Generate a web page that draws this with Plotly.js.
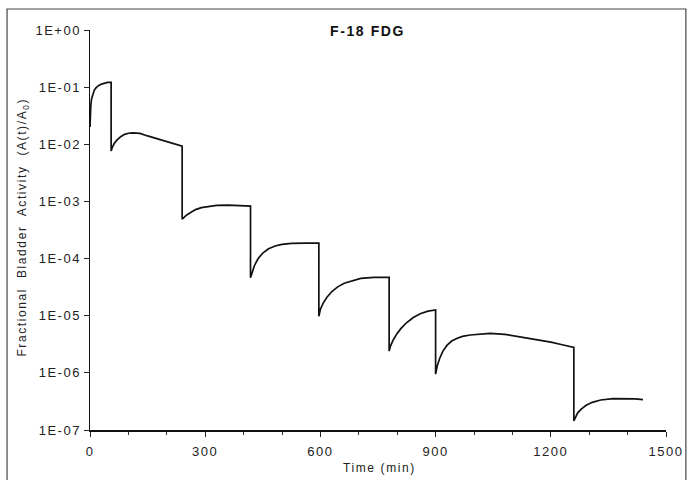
<!DOCTYPE html>
<html>
<head>
<meta charset="utf-8">
<script src="https://cdn.plot.ly/plotly-3.0.1.min.js"></script>
<style>
  html, body { margin: 0; padding: 0; background: #fff; }
  #chart { width: 687px; height: 480px; }
  .xtick text, .ytick text { letter-spacing: 1.5px; }
  .annotation-text { letter-spacing: 1.6px; }
</style>
</head>
<body>
<div id="chart"></div>
<script>
// Time after administration (min) and fractional bladder activity A(t)/A0
const timeMin = [
  0, 1, 2, 4, 7, 11, 16, 22, 30, 38, 46, 55,
  55, 58, 63, 70, 80, 90, 100, 112, 130, 150, 175, 200, 220, 240,
  240, 245, 252, 262, 275, 290, 308, 330, 360, 390, 418,
  418, 422, 428, 438, 450, 465, 482, 500, 525, 560, 596,
  596, 600, 607, 617, 630, 645, 662, 682, 705, 740, 779,
  779, 783, 790, 799, 810, 825, 842, 860, 880, 900,
  900, 904, 910, 919, 930, 942, 955, 970, 990, 1015, 1042, 1080, 1120, 1160, 1200, 1230, 1260,
  1260, 1264, 1270, 1280, 1292, 1308, 1330, 1362, 1395, 1420, 1440
];
const fraction = [
  0.02, 0.035, 0.047, 0.062, 0.076, 0.088, 0.098, 0.106, 0.113, 0.118, 0.121, 0.121,
  0.0076, 0.0088, 0.0103, 0.0118, 0.0136, 0.0149, 0.0156, 0.0158, 0.0155, 0.0140, 0.0125, 0.0111, 0.0101, 0.0093,
  4.9e-4, 5.3e-4, 5.8e-4, 6.4e-4, 7.2e-4, 7.8e-4, 8.2e-4, 8.5e-4, 8.6e-4, 8.5e-4, 8.3e-4,
  4.6e-5, 5.8e-5, 7.5e-5, 1.0e-4, 1.25e-4, 1.48e-4, 1.66e-4, 1.77e-4, 1.84e-4, 1.87e-4, 1.86e-4,
  9.8e-6, 1.3e-5, 1.65e-5, 2.1e-5, 2.65e-5, 3.2e-5, 3.7e-5, 4.1e-5, 4.5e-5, 4.7e-5, 4.7e-5,
  2.4e-6, 3.0e-6, 3.8e-6, 4.8e-6, 6.0e-6, 7.6e-6, 9.3e-6, 1.08e-5, 1.2e-5, 1.26e-5,
  9.5e-7, 1.3e-6, 1.75e-6, 2.4e-6, 3.05e-6, 3.6e-6, 4.0e-6, 4.35e-6, 4.6e-6, 4.8e-6, 4.9e-6, 4.73e-6, 4.3e-6, 3.9e-6, 3.45e-6, 3.1e-6, 2.8e-6,
  1.45e-7, 1.7e-7, 2.0e-7, 2.35e-7, 2.7e-7, 3.05e-7, 3.35e-7, 3.55e-7, 3.58e-7, 3.5e-7, 3.4e-7
];

const yTickVals = [1, 1e-1, 1e-2, 1e-3, 1e-4, 1e-5, 1e-6, 1e-7];
const yTickText = ['1E+00', '1E-01', '1E-02', '1E-03', '1E-04', '1E-05', '1E-06', '1E-07'];
const xTickVals = [0, 300, 600, 900, 1200, 1500];
const xTickText = ['0', '300', '600', '900', '1200', '1500'];

const chartTitle = 'F-18 FDG';
const xTitle = 'Time (min)';
const yTitle = 'Fractional\u00a0 Bladder\u00a0 Activity\u00a0 (A(t)/A<sub>0</sub>)';

const font = 'Liberation Sans, Arial, sans-serif';

const trace = {
  x: timeMin,
  y: fraction,
  type: 'scatter',
  mode: 'lines',
  line: { color: '#111', width: 1.7 },
  hoverinfo: 'skip'
};

const layout = {
  width: 687,
  height: 480,
  margin: { l: 90, r: 21, t: 30, b: 50 },
  paper_bgcolor: '#fff',
  plot_bgcolor: '#fff',
  showlegend: false,
  font: { family: font, size: 12, color: '#222' },
  xaxis: {
    range: [0, 1500],
    tickvals: xTickVals,
    ticktext: xTickText,
    ticks: 'outside',
    ticklen: 5,
    tickcolor: '#222',
    tickwidth: 1,
    ticklabelstandoff: 4,
    showline: true,
    linecolor: '#111',
    linewidth: 1.5,
    showgrid: false,
    zeroline: false,
    minor: { dtick: 100, tick0: 0, ticks: 'outside', ticklen: 3, tickcolor: '#333', showgrid: false },
    tickfont: { family: font, size: 13, color: '#222' }
  },
  yaxis: {
    type: 'log',
    range: [-7, 0],
    tickvals: yTickVals,
    ticktext: yTickText,
    ticks: 'outside',
    ticklen: 5,
    tickcolor: '#222',
    tickwidth: 1,
    showline: true,
    linecolor: '#111',
    linewidth: 1.5,
    showgrid: false,
    zeroline: false,
    tickfont: { family: font, size: 13, color: '#222' }
  },
  shapes: [
    {
      type: 'rect', xref: 'paper', yref: 'paper',
      x0: -0.144, x1: 1.0345, y0: -0.14, y1: 1.0525,
      line: { color: '#444', width: 1.2 },
      layer: 'below'
    }
  ],
  annotations: [
    {
      text: '<b>' + chartTitle + '</b>', xref: 'paper', yref: 'paper',
      x: 0.481, y: 0.9975, xanchor: 'center', yanchor: 'middle',
      showarrow: false, font: { family: font, size: 14, color: '#111' }
    },
    {
      text: xTitle, xref: 'paper', yref: 'paper',
      x: 0.503, y: -0.095, xanchor: 'center', yanchor: 'middle',
      showarrow: false, font: { family: font, size: 12, color: '#222' }
    },
    {
      text: yTitle, xref: 'paper', yref: 'paper',
      x: -0.1163, y: 0.506, xanchor: 'center', yanchor: 'middle', textangle: -90,
      showarrow: false, font: { family: font, size: 12, color: '#222' }
    }
  ]
};

Plotly.newPlot('chart', [trace], layout, { displayModeBar: false, staticPlot: true });
</script>
</body>
</html>
